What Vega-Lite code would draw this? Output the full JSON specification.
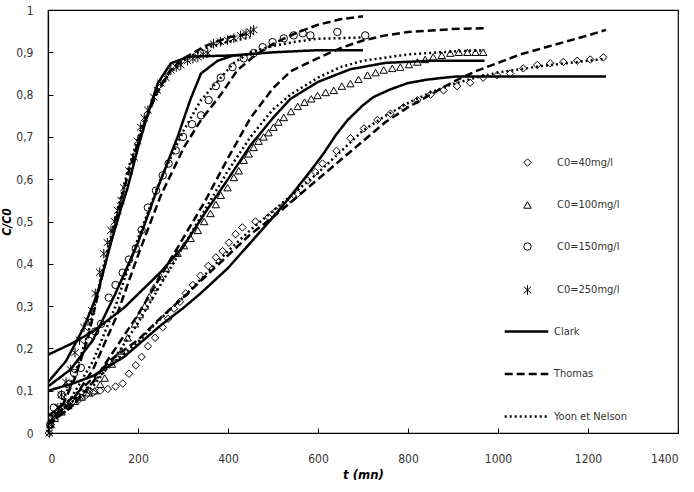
{
  "$schema": "https://vega.github.io/schema/vega-lite/v6.json",
  "width": 630,
  "height": 423,
  "autosize": {"type": "none"},
  "padding": {"left": 48, "top": 10, "right": 16, "bottom": 59},
  "background": "white",
  "config": {
    "font": "Liberation Sans Narrow, DejaVu Sans Condensed, sans-serif",
    "view": {"stroke": "#000", "strokeWidth": 1.2},
    "axis": {
      "grid": false,
      "domainColor": "#000",
      "domainWidth": 1.2,
      "tickColor": "#000",
      "tickWidth": 1,
      "tickSize": -5,
      "labelColor": "#333",
      "labelFontSize": 12,
      "titleColor": "#000",
      "titleFontStyle": "italic",
      "titleFontWeight": "bold",
      "titleFontSize": 13
    }
  },
  "datasets": {
    "fit": [
      {"t": 0, "v": 0.10, "c": "C0=40mg/l", "m": "Clark"},
      {"t": 50, "v": 0.115, "c": "C0=40mg/l", "m": "Clark"},
      {"t": 100, "v": 0.135, "c": "C0=40mg/l", "m": "Clark"},
      {"t": 169, "v": 0.18, "c": "C0=40mg/l", "m": "Clark"},
      {"t": 251, "v": 0.255, "c": "C0=40mg/l", "m": "Clark"},
      {"t": 300, "v": 0.295, "c": "C0=40mg/l", "m": "Clark"},
      {"t": 339, "v": 0.33, "c": "C0=40mg/l", "m": "Clark"},
      {"t": 400, "v": 0.39, "c": "C0=40mg/l", "m": "Clark"},
      {"t": 450, "v": 0.45, "c": "C0=40mg/l", "m": "Clark"},
      {"t": 500, "v": 0.51, "c": "C0=40mg/l", "m": "Clark"},
      {"t": 539, "v": 0.56, "c": "C0=40mg/l", "m": "Clark"},
      {"t": 580, "v": 0.615, "c": "C0=40mg/l", "m": "Clark"},
      {"t": 612, "v": 0.66, "c": "C0=40mg/l", "m": "Clark"},
      {"t": 640, "v": 0.705, "c": "C0=40mg/l", "m": "Clark"},
      {"t": 666, "v": 0.74, "c": "C0=40mg/l", "m": "Clark"},
      {"t": 700, "v": 0.775, "c": "C0=40mg/l", "m": "Clark"},
      {"t": 723, "v": 0.794, "c": "C0=40mg/l", "m": "Clark"},
      {"t": 760, "v": 0.812, "c": "C0=40mg/l", "m": "Clark"},
      {"t": 799, "v": 0.827, "c": "C0=40mg/l", "m": "Clark"},
      {"t": 840, "v": 0.835, "c": "C0=40mg/l", "m": "Clark"},
      {"t": 872, "v": 0.839, "c": "C0=40mg/l", "m": "Clark"},
      {"t": 909, "v": 0.843, "c": "C0=40mg/l", "m": "Clark"},
      {"t": 1000, "v": 0.843, "c": "C0=40mg/l", "m": "Clark"},
      {"t": 1240, "v": 0.843, "c": "C0=40mg/l", "m": "Clark"},

      {"t": 0, "v": 0.185, "c": "C0=100mg/l", "m": "Clark"},
      {"t": 50, "v": 0.21, "c": "C0=100mg/l", "m": "Clark"},
      {"t": 100, "v": 0.24, "c": "C0=100mg/l", "m": "Clark"},
      {"t": 169, "v": 0.296, "c": "C0=100mg/l", "m": "Clark"},
      {"t": 250, "v": 0.38, "c": "C0=100mg/l", "m": "Clark"},
      {"t": 300, "v": 0.44, "c": "C0=100mg/l", "m": "Clark"},
      {"t": 355, "v": 0.53, "c": "C0=100mg/l", "m": "Clark"},
      {"t": 400, "v": 0.6, "c": "C0=100mg/l", "m": "Clark"},
      {"t": 450, "v": 0.68, "c": "C0=100mg/l", "m": "Clark"},
      {"t": 500, "v": 0.745, "c": "C0=100mg/l", "m": "Clark"},
      {"t": 539, "v": 0.79, "c": "C0=100mg/l", "m": "Clark"},
      {"t": 600, "v": 0.83, "c": "C0=100mg/l", "m": "Clark"},
      {"t": 672, "v": 0.86, "c": "C0=100mg/l", "m": "Clark"},
      {"t": 750, "v": 0.875, "c": "C0=100mg/l", "m": "Clark"},
      {"t": 850, "v": 0.88, "c": "C0=100mg/l", "m": "Clark"},
      {"t": 970, "v": 0.88, "c": "C0=100mg/l", "m": "Clark"},

      {"t": 0, "v": 0.11, "c": "C0=150mg/l", "m": "Clark"},
      {"t": 50, "v": 0.15, "c": "C0=150mg/l", "m": "Clark"},
      {"t": 100, "v": 0.22, "c": "C0=150mg/l", "m": "Clark"},
      {"t": 150, "v": 0.33, "c": "C0=150mg/l", "m": "Clark"},
      {"t": 200, "v": 0.45, "c": "C0=150mg/l", "m": "Clark"},
      {"t": 244, "v": 0.58, "c": "C0=150mg/l", "m": "Clark"},
      {"t": 288, "v": 0.70, "c": "C0=150mg/l", "m": "Clark"},
      {"t": 317, "v": 0.79, "c": "C0=150mg/l", "m": "Clark"},
      {"t": 340, "v": 0.85, "c": "C0=150mg/l", "m": "Clark"},
      {"t": 377, "v": 0.88, "c": "C0=150mg/l", "m": "Clark"},
      {"t": 413, "v": 0.893, "c": "C0=150mg/l", "m": "Clark"},
      {"t": 500, "v": 0.9, "c": "C0=150mg/l", "m": "Clark"},
      {"t": 600, "v": 0.905, "c": "C0=150mg/l", "m": "Clark"},
      {"t": 700, "v": 0.905, "c": "C0=150mg/l", "m": "Clark"},

      {"t": 0, "v": 0.12, "c": "C0=250mg/l", "m": "Clark"},
      {"t": 40, "v": 0.17, "c": "C0=250mg/l", "m": "Clark"},
      {"t": 80, "v": 0.25, "c": "C0=250mg/l", "m": "Clark"},
      {"t": 110, "v": 0.33, "c": "C0=250mg/l", "m": "Clark"},
      {"t": 140, "v": 0.45, "c": "C0=250mg/l", "m": "Clark"},
      {"t": 162, "v": 0.53, "c": "C0=250mg/l", "m": "Clark"},
      {"t": 177, "v": 0.58, "c": "C0=250mg/l", "m": "Clark"},
      {"t": 200, "v": 0.675, "c": "C0=250mg/l", "m": "Clark"},
      {"t": 222, "v": 0.755, "c": "C0=250mg/l", "m": "Clark"},
      {"t": 244, "v": 0.827, "c": "C0=250mg/l", "m": "Clark"},
      {"t": 273, "v": 0.874, "c": "C0=250mg/l", "m": "Clark"},
      {"t": 311, "v": 0.889, "c": "C0=250mg/l", "m": "Clark"},
      {"t": 350, "v": 0.891, "c": "C0=250mg/l", "m": "Clark"},
      {"t": 430, "v": 0.893, "c": "C0=250mg/l", "m": "Clark"},

      {"t": 0, "v": 0.04, "c": "C0=40mg/l", "m": "Thomas"},
      {"t": 50, "v": 0.08, "c": "C0=40mg/l", "m": "Thomas"},
      {"t": 100, "v": 0.13, "c": "C0=40mg/l", "m": "Thomas"},
      {"t": 142, "v": 0.175, "c": "C0=40mg/l", "m": "Thomas"},
      {"t": 200, "v": 0.22, "c": "C0=40mg/l", "m": "Thomas"},
      {"t": 253, "v": 0.275, "c": "C0=40mg/l", "m": "Thomas"},
      {"t": 300, "v": 0.32, "c": "C0=40mg/l", "m": "Thomas"},
      {"t": 350, "v": 0.37, "c": "C0=40mg/l", "m": "Thomas"},
      {"t": 400, "v": 0.42, "c": "C0=40mg/l", "m": "Thomas"},
      {"t": 450, "v": 0.47, "c": "C0=40mg/l", "m": "Thomas"},
      {"t": 500, "v": 0.51, "c": "C0=40mg/l", "m": "Thomas"},
      {"t": 550, "v": 0.555, "c": "C0=40mg/l", "m": "Thomas"},
      {"t": 600, "v": 0.6, "c": "C0=40mg/l", "m": "Thomas"},
      {"t": 650, "v": 0.645, "c": "C0=40mg/l", "m": "Thomas"},
      {"t": 700, "v": 0.69, "c": "C0=40mg/l", "m": "Thomas"},
      {"t": 750, "v": 0.735, "c": "C0=40mg/l", "m": "Thomas"},
      {"t": 800, "v": 0.77, "c": "C0=40mg/l", "m": "Thomas"},
      {"t": 850, "v": 0.80, "c": "C0=40mg/l", "m": "Thomas"},
      {"t": 900, "v": 0.83, "c": "C0=40mg/l", "m": "Thomas"},
      {"t": 950, "v": 0.855, "c": "C0=40mg/l", "m": "Thomas"},
      {"t": 1000, "v": 0.875, "c": "C0=40mg/l", "m": "Thomas"},
      {"t": 1050, "v": 0.895, "c": "C0=40mg/l", "m": "Thomas"},
      {"t": 1100, "v": 0.91, "c": "C0=40mg/l", "m": "Thomas"},
      {"t": 1150, "v": 0.925, "c": "C0=40mg/l", "m": "Thomas"},
      {"t": 1200, "v": 0.94, "c": "C0=40mg/l", "m": "Thomas"},
      {"t": 1240, "v": 0.953, "c": "C0=40mg/l", "m": "Thomas"},

      {"t": 0, "v": 0.02, "c": "C0=100mg/l", "m": "Thomas"},
      {"t": 50, "v": 0.06, "c": "C0=100mg/l", "m": "Thomas"},
      {"t": 100, "v": 0.12, "c": "C0=100mg/l", "m": "Thomas"},
      {"t": 150, "v": 0.2, "c": "C0=100mg/l", "m": "Thomas"},
      {"t": 200, "v": 0.28, "c": "C0=100mg/l", "m": "Thomas"},
      {"t": 250, "v": 0.37, "c": "C0=100mg/l", "m": "Thomas"},
      {"t": 300, "v": 0.46, "c": "C0=100mg/l", "m": "Thomas"},
      {"t": 350, "v": 0.55, "c": "C0=100mg/l", "m": "Thomas"},
      {"t": 400, "v": 0.65, "c": "C0=100mg/l", "m": "Thomas"},
      {"t": 450, "v": 0.745, "c": "C0=100mg/l", "m": "Thomas"},
      {"t": 500, "v": 0.815, "c": "C0=100mg/l", "m": "Thomas"},
      {"t": 539, "v": 0.855, "c": "C0=100mg/l", "m": "Thomas"},
      {"t": 583, "v": 0.878, "c": "C0=100mg/l", "m": "Thomas"},
      {"t": 650, "v": 0.91, "c": "C0=100mg/l", "m": "Thomas"},
      {"t": 700, "v": 0.928, "c": "C0=100mg/l", "m": "Thomas"},
      {"t": 750, "v": 0.94, "c": "C0=100mg/l", "m": "Thomas"},
      {"t": 800, "v": 0.948, "c": "C0=100mg/l", "m": "Thomas"},
      {"t": 900, "v": 0.955, "c": "C0=100mg/l", "m": "Thomas"},
      {"t": 970, "v": 0.957, "c": "C0=100mg/l", "m": "Thomas"},

      {"t": 0, "v": 0.02, "c": "C0=150mg/l", "m": "Thomas"},
      {"t": 50, "v": 0.07, "c": "C0=150mg/l", "m": "Thomas"},
      {"t": 100, "v": 0.15, "c": "C0=150mg/l", "m": "Thomas"},
      {"t": 150, "v": 0.27, "c": "C0=150mg/l", "m": "Thomas"},
      {"t": 200, "v": 0.42, "c": "C0=150mg/l", "m": "Thomas"},
      {"t": 250, "v": 0.56, "c": "C0=150mg/l", "m": "Thomas"},
      {"t": 302, "v": 0.675, "c": "C0=150mg/l", "m": "Thomas"},
      {"t": 340, "v": 0.74, "c": "C0=150mg/l", "m": "Thomas"},
      {"t": 384, "v": 0.80, "c": "C0=150mg/l", "m": "Thomas"},
      {"t": 421, "v": 0.858, "c": "C0=150mg/l", "m": "Thomas"},
      {"t": 457, "v": 0.89, "c": "C0=150mg/l", "m": "Thomas"},
      {"t": 500, "v": 0.92, "c": "C0=150mg/l", "m": "Thomas"},
      {"t": 550, "v": 0.945, "c": "C0=150mg/l", "m": "Thomas"},
      {"t": 600, "v": 0.965, "c": "C0=150mg/l", "m": "Thomas"},
      {"t": 650, "v": 0.978, "c": "C0=150mg/l", "m": "Thomas"},
      {"t": 700, "v": 0.985, "c": "C0=150mg/l", "m": "Thomas"},

      {"t": 0, "v": 0.02, "c": "C0=250mg/l", "m": "Thomas"},
      {"t": 30, "v": 0.06, "c": "C0=250mg/l", "m": "Thomas"},
      {"t": 60, "v": 0.13, "c": "C0=250mg/l", "m": "Thomas"},
      {"t": 90, "v": 0.23, "c": "C0=250mg/l", "m": "Thomas"},
      {"t": 120, "v": 0.37, "c": "C0=250mg/l", "m": "Thomas"},
      {"t": 150, "v": 0.5, "c": "C0=250mg/l", "m": "Thomas"},
      {"t": 180, "v": 0.62, "c": "C0=250mg/l", "m": "Thomas"},
      {"t": 210, "v": 0.72, "c": "C0=250mg/l", "m": "Thomas"},
      {"t": 240, "v": 0.8, "c": "C0=250mg/l", "m": "Thomas"},
      {"t": 270, "v": 0.855, "c": "C0=250mg/l", "m": "Thomas"},
      {"t": 300, "v": 0.885, "c": "C0=250mg/l", "m": "Thomas"},
      {"t": 350, "v": 0.915, "c": "C0=250mg/l", "m": "Thomas"},
      {"t": 400, "v": 0.935, "c": "C0=250mg/l", "m": "Thomas"},
      {"t": 450, "v": 0.945, "c": "C0=250mg/l", "m": "Thomas"},

      {"t": 0, "v": 0.03, "c": "C0=40mg/l", "m": "Yoon et Nelson"},
      {"t": 50, "v": 0.07, "c": "C0=40mg/l", "m": "Yoon et Nelson"},
      {"t": 100, "v": 0.12, "c": "C0=40mg/l", "m": "Yoon et Nelson"},
      {"t": 150, "v": 0.17, "c": "C0=40mg/l", "m": "Yoon et Nelson"},
      {"t": 200, "v": 0.215, "c": "C0=40mg/l", "m": "Yoon et Nelson"},
      {"t": 250, "v": 0.27, "c": "C0=40mg/l", "m": "Yoon et Nelson"},
      {"t": 300, "v": 0.32, "c": "C0=40mg/l", "m": "Yoon et Nelson"},
      {"t": 350, "v": 0.375, "c": "C0=40mg/l", "m": "Yoon et Nelson"},
      {"t": 400, "v": 0.43, "c": "C0=40mg/l", "m": "Yoon et Nelson"},
      {"t": 450, "v": 0.48, "c": "C0=40mg/l", "m": "Yoon et Nelson"},
      {"t": 500, "v": 0.525, "c": "C0=40mg/l", "m": "Yoon et Nelson"},
      {"t": 550, "v": 0.57, "c": "C0=40mg/l", "m": "Yoon et Nelson"},
      {"t": 600, "v": 0.615, "c": "C0=40mg/l", "m": "Yoon et Nelson"},
      {"t": 650, "v": 0.665, "c": "C0=40mg/l", "m": "Yoon et Nelson"},
      {"t": 700, "v": 0.715, "c": "C0=40mg/l", "m": "Yoon et Nelson"},
      {"t": 750, "v": 0.75, "c": "C0=40mg/l", "m": "Yoon et Nelson"},
      {"t": 800, "v": 0.78, "c": "C0=40mg/l", "m": "Yoon et Nelson"},
      {"t": 850, "v": 0.805, "c": "C0=40mg/l", "m": "Yoon et Nelson"},
      {"t": 900, "v": 0.825, "c": "C0=40mg/l", "m": "Yoon et Nelson"},
      {"t": 950, "v": 0.84, "c": "C0=40mg/l", "m": "Yoon et Nelson"},
      {"t": 1000, "v": 0.852, "c": "C0=40mg/l", "m": "Yoon et Nelson"},
      {"t": 1100, "v": 0.868, "c": "C0=40mg/l", "m": "Yoon et Nelson"},
      {"t": 1200, "v": 0.88, "c": "C0=40mg/l", "m": "Yoon et Nelson"},
      {"t": 1240, "v": 0.885, "c": "C0=40mg/l", "m": "Yoon et Nelson"},

      {"t": 0, "v": 0.02, "c": "C0=100mg/l", "m": "Yoon et Nelson"},
      {"t": 50, "v": 0.06, "c": "C0=100mg/l", "m": "Yoon et Nelson"},
      {"t": 100, "v": 0.11, "c": "C0=100mg/l", "m": "Yoon et Nelson"},
      {"t": 150, "v": 0.18, "c": "C0=100mg/l", "m": "Yoon et Nelson"},
      {"t": 200, "v": 0.26, "c": "C0=100mg/l", "m": "Yoon et Nelson"},
      {"t": 250, "v": 0.35, "c": "C0=100mg/l", "m": "Yoon et Nelson"},
      {"t": 300, "v": 0.44, "c": "C0=100mg/l", "m": "Yoon et Nelson"},
      {"t": 350, "v": 0.53, "c": "C0=100mg/l", "m": "Yoon et Nelson"},
      {"t": 400, "v": 0.62, "c": "C0=100mg/l", "m": "Yoon et Nelson"},
      {"t": 450, "v": 0.70, "c": "C0=100mg/l", "m": "Yoon et Nelson"},
      {"t": 500, "v": 0.765, "c": "C0=100mg/l", "m": "Yoon et Nelson"},
      {"t": 539, "v": 0.80, "c": "C0=100mg/l", "m": "Yoon et Nelson"},
      {"t": 600, "v": 0.84, "c": "C0=100mg/l", "m": "Yoon et Nelson"},
      {"t": 650, "v": 0.865, "c": "C0=100mg/l", "m": "Yoon et Nelson"},
      {"t": 700, "v": 0.88, "c": "C0=100mg/l", "m": "Yoon et Nelson"},
      {"t": 800, "v": 0.895, "c": "C0=100mg/l", "m": "Yoon et Nelson"},
      {"t": 900, "v": 0.902, "c": "C0=100mg/l", "m": "Yoon et Nelson"},
      {"t": 970, "v": 0.905, "c": "C0=100mg/l", "m": "Yoon et Nelson"},

      {"t": 0, "v": 0.02, "c": "C0=150mg/l", "m": "Yoon et Nelson"},
      {"t": 50, "v": 0.08, "c": "C0=150mg/l", "m": "Yoon et Nelson"},
      {"t": 100, "v": 0.17, "c": "C0=150mg/l", "m": "Yoon et Nelson"},
      {"t": 150, "v": 0.3, "c": "C0=150mg/l", "m": "Yoon et Nelson"},
      {"t": 200, "v": 0.46, "c": "C0=150mg/l", "m": "Yoon et Nelson"},
      {"t": 250, "v": 0.6, "c": "C0=150mg/l", "m": "Yoon et Nelson"},
      {"t": 302, "v": 0.716, "c": "C0=150mg/l", "m": "Yoon et Nelson"},
      {"t": 340, "v": 0.787, "c": "C0=150mg/l", "m": "Yoon et Nelson"},
      {"t": 413, "v": 0.875, "c": "C0=150mg/l", "m": "Yoon et Nelson"},
      {"t": 450, "v": 0.9, "c": "C0=150mg/l", "m": "Yoon et Nelson"},
      {"t": 500, "v": 0.915, "c": "C0=150mg/l", "m": "Yoon et Nelson"},
      {"t": 550, "v": 0.925, "c": "C0=150mg/l", "m": "Yoon et Nelson"},
      {"t": 600, "v": 0.932, "c": "C0=150mg/l", "m": "Yoon et Nelson"},
      {"t": 700, "v": 0.935, "c": "C0=150mg/l", "m": "Yoon et Nelson"},

      {"t": 0, "v": 0.03, "c": "C0=250mg/l", "m": "Yoon et Nelson"},
      {"t": 30, "v": 0.07, "c": "C0=250mg/l", "m": "Yoon et Nelson"},
      {"t": 60, "v": 0.14, "c": "C0=250mg/l", "m": "Yoon et Nelson"},
      {"t": 90, "v": 0.24, "c": "C0=250mg/l", "m": "Yoon et Nelson"},
      {"t": 120, "v": 0.38, "c": "C0=250mg/l", "m": "Yoon et Nelson"},
      {"t": 150, "v": 0.51, "c": "C0=250mg/l", "m": "Yoon et Nelson"},
      {"t": 180, "v": 0.63, "c": "C0=250mg/l", "m": "Yoon et Nelson"},
      {"t": 210, "v": 0.73, "c": "C0=250mg/l", "m": "Yoon et Nelson"},
      {"t": 240, "v": 0.8, "c": "C0=250mg/l", "m": "Yoon et Nelson"},
      {"t": 270, "v": 0.85, "c": "C0=250mg/l", "m": "Yoon et Nelson"},
      {"t": 300, "v": 0.88, "c": "C0=250mg/l", "m": "Yoon et Nelson"},
      {"t": 350, "v": 0.91, "c": "C0=250mg/l", "m": "Yoon et Nelson"},
      {"t": 400, "v": 0.925, "c": "C0=250mg/l", "m": "Yoon et Nelson"},
      {"t": 450, "v": 0.935, "c": "C0=250mg/l", "m": "Yoon et Nelson"}
    ],
    "obs": [
      {"t": 2, "v": 0.0, "c": "C0=40mg/l"}, {"t": 6, "v": 0.02, "c": "C0=40mg/l"}, {"t": 12, "v": 0.04, "c": "C0=40mg/l"},
      {"t": 20, "v": 0.05, "c": "C0=40mg/l"}, {"t": 30, "v": 0.06, "c": "C0=40mg/l"}, {"t": 42, "v": 0.065, "c": "C0=40mg/l"},
      {"t": 55, "v": 0.075, "c": "C0=40mg/l"}, {"t": 70, "v": 0.08, "c": "C0=40mg/l"}, {"t": 85, "v": 0.09, "c": "C0=40mg/l"},
      {"t": 100, "v": 0.095, "c": "C0=40mg/l"}, {"t": 116, "v": 0.1, "c": "C0=40mg/l"}, {"t": 133, "v": 0.104, "c": "C0=40mg/l"},
      {"t": 150, "v": 0.11, "c": "C0=40mg/l"}, {"t": 166, "v": 0.117, "c": "C0=40mg/l"}, {"t": 180, "v": 0.14, "c": "C0=40mg/l"},
      {"t": 195, "v": 0.16, "c": "C0=40mg/l"}, {"t": 208, "v": 0.18, "c": "C0=40mg/l"}, {"t": 222, "v": 0.205, "c": "C0=40mg/l"},
      {"t": 238, "v": 0.225, "c": "C0=40mg/l"}, {"t": 255, "v": 0.25, "c": "C0=40mg/l"}, {"t": 267, "v": 0.27, "c": "C0=40mg/l"},
      {"t": 280, "v": 0.294, "c": "C0=40mg/l"}, {"t": 293, "v": 0.31, "c": "C0=40mg/l"}, {"t": 306, "v": 0.33, "c": "C0=40mg/l"},
      {"t": 322, "v": 0.35, "c": "C0=40mg/l"}, {"t": 339, "v": 0.372, "c": "C0=40mg/l"}, {"t": 356, "v": 0.395, "c": "C0=40mg/l"},
      {"t": 373, "v": 0.415, "c": "C0=40mg/l"}, {"t": 388, "v": 0.43, "c": "C0=40mg/l"}, {"t": 402, "v": 0.45, "c": "C0=40mg/l"},
      {"t": 417, "v": 0.47, "c": "C0=40mg/l"}, {"t": 432, "v": 0.486, "c": "C0=40mg/l"}, {"t": 461, "v": 0.5, "c": "C0=40mg/l"},
      {"t": 490, "v": 0.51, "c": "C0=40mg/l"}, {"t": 507, "v": 0.525, "c": "C0=40mg/l"}, {"t": 524, "v": 0.538, "c": "C0=40mg/l"},
      {"t": 540, "v": 0.552, "c": "C0=40mg/l"}, {"t": 555, "v": 0.566, "c": "C0=40mg/l"}, {"t": 577, "v": 0.597, "c": "C0=40mg/l"},
      {"t": 594, "v": 0.617, "c": "C0=40mg/l"}, {"t": 610, "v": 0.637, "c": "C0=40mg/l"}, {"t": 641, "v": 0.667, "c": "C0=40mg/l"},
      {"t": 672, "v": 0.697, "c": "C0=40mg/l"}, {"t": 702, "v": 0.72, "c": "C0=40mg/l"}, {"t": 732, "v": 0.74, "c": "C0=40mg/l"},
      {"t": 761, "v": 0.755, "c": "C0=40mg/l"}, {"t": 790, "v": 0.77, "c": "C0=40mg/l"}, {"t": 821, "v": 0.787, "c": "C0=40mg/l"},
      {"t": 850, "v": 0.8, "c": "C0=40mg/l"}, {"t": 879, "v": 0.81, "c": "C0=40mg/l"}, {"t": 909, "v": 0.82, "c": "C0=40mg/l"},
      {"t": 938, "v": 0.828, "c": "C0=40mg/l"}, {"t": 967, "v": 0.84, "c": "C0=40mg/l"}, {"t": 998, "v": 0.846, "c": "C0=40mg/l"},
      {"t": 1027, "v": 0.85, "c": "C0=40mg/l"}, {"t": 1056, "v": 0.862, "c": "C0=40mg/l"}, {"t": 1087, "v": 0.87, "c": "C0=40mg/l"},
      {"t": 1116, "v": 0.874, "c": "C0=40mg/l"}, {"t": 1145, "v": 0.877, "c": "C0=40mg/l"}, {"t": 1176, "v": 0.88, "c": "C0=40mg/l"},
      {"t": 1205, "v": 0.883, "c": "C0=40mg/l"}, {"t": 1234, "v": 0.888, "c": "C0=40mg/l"},

      {"t": 5, "v": 0.02, "c": "C0=100mg/l"}, {"t": 15, "v": 0.035, "c": "C0=100mg/l"}, {"t": 30, "v": 0.05, "c": "C0=100mg/l"},
      {"t": 45, "v": 0.065, "c": "C0=100mg/l"}, {"t": 60, "v": 0.075, "c": "C0=100mg/l"}, {"t": 75, "v": 0.085, "c": "C0=100mg/l"},
      {"t": 90, "v": 0.095, "c": "C0=100mg/l"}, {"t": 104, "v": 0.1, "c": "C0=100mg/l"}, {"t": 116, "v": 0.115, "c": "C0=100mg/l"},
      {"t": 126, "v": 0.13, "c": "C0=100mg/l"}, {"t": 142, "v": 0.163, "c": "C0=100mg/l"}, {"t": 153, "v": 0.18, "c": "C0=100mg/l"},
      {"t": 164, "v": 0.194, "c": "C0=100mg/l"}, {"t": 177, "v": 0.225, "c": "C0=100mg/l"}, {"t": 193, "v": 0.258, "c": "C0=100mg/l"},
      {"t": 204, "v": 0.28, "c": "C0=100mg/l"}, {"t": 215, "v": 0.30, "c": "C0=100mg/l"}, {"t": 225, "v": 0.322, "c": "C0=100mg/l"},
      {"t": 235, "v": 0.344, "c": "C0=100mg/l"}, {"t": 250, "v": 0.37, "c": "C0=100mg/l"}, {"t": 262, "v": 0.39, "c": "C0=100mg/l"},
      {"t": 273, "v": 0.408, "c": "C0=100mg/l"}, {"t": 288, "v": 0.425, "c": "C0=100mg/l"}, {"t": 302, "v": 0.443, "c": "C0=100mg/l"},
      {"t": 317, "v": 0.46, "c": "C0=100mg/l"}, {"t": 333, "v": 0.479, "c": "C0=100mg/l"}, {"t": 347, "v": 0.5, "c": "C0=100mg/l"},
      {"t": 361, "v": 0.519, "c": "C0=100mg/l"}, {"t": 373, "v": 0.54, "c": "C0=100mg/l"}, {"t": 384, "v": 0.562, "c": "C0=100mg/l"},
      {"t": 399, "v": 0.58, "c": "C0=100mg/l"}, {"t": 413, "v": 0.604, "c": "C0=100mg/l"}, {"t": 424, "v": 0.62, "c": "C0=100mg/l"},
      {"t": 435, "v": 0.645, "c": "C0=100mg/l"}, {"t": 446, "v": 0.66, "c": "C0=100mg/l"}, {"t": 457, "v": 0.675, "c": "C0=100mg/l"},
      {"t": 468, "v": 0.69, "c": "C0=100mg/l"}, {"t": 479, "v": 0.70, "c": "C0=100mg/l"}, {"t": 490, "v": 0.71, "c": "C0=100mg/l"},
      {"t": 501, "v": 0.723, "c": "C0=100mg/l"}, {"t": 512, "v": 0.735, "c": "C0=100mg/l"}, {"t": 524, "v": 0.746, "c": "C0=100mg/l"},
      {"t": 540, "v": 0.76, "c": "C0=100mg/l"}, {"t": 555, "v": 0.772, "c": "C0=100mg/l"}, {"t": 570, "v": 0.782, "c": "C0=100mg/l"},
      {"t": 585, "v": 0.79, "c": "C0=100mg/l"}, {"t": 599, "v": 0.798, "c": "C0=100mg/l"}, {"t": 617, "v": 0.805, "c": "C0=100mg/l"},
      {"t": 635, "v": 0.81, "c": "C0=100mg/l"}, {"t": 653, "v": 0.82, "c": "C0=100mg/l"}, {"t": 672, "v": 0.826, "c": "C0=100mg/l"},
      {"t": 690, "v": 0.836, "c": "C0=100mg/l"}, {"t": 710, "v": 0.846, "c": "C0=100mg/l"}, {"t": 728, "v": 0.852, "c": "C0=100mg/l"},
      {"t": 746, "v": 0.858, "c": "C0=100mg/l"}, {"t": 765, "v": 0.862, "c": "C0=100mg/l"}, {"t": 783, "v": 0.865, "c": "C0=100mg/l"},
      {"t": 802, "v": 0.871, "c": "C0=100mg/l"}, {"t": 821, "v": 0.877, "c": "C0=100mg/l"}, {"t": 838, "v": 0.883, "c": "C0=100mg/l"},
      {"t": 856, "v": 0.889, "c": "C0=100mg/l"}, {"t": 875, "v": 0.893, "c": "C0=100mg/l"}, {"t": 894, "v": 0.898, "c": "C0=100mg/l"},
      {"t": 913, "v": 0.9, "c": "C0=100mg/l"}, {"t": 932, "v": 0.9, "c": "C0=100mg/l"}, {"t": 950, "v": 0.9, "c": "C0=100mg/l"},
      {"t": 967, "v": 0.9, "c": "C0=100mg/l"},

      {"t": 5, "v": 0.02, "c": "C0=150mg/l"}, {"t": 13, "v": 0.06, "c": "C0=150mg/l"}, {"t": 30, "v": 0.09, "c": "C0=150mg/l"},
      {"t": 45, "v": 0.115, "c": "C0=150mg/l"}, {"t": 58, "v": 0.142, "c": "C0=150mg/l"}, {"t": 73, "v": 0.154, "c": "C0=150mg/l"},
      {"t": 91, "v": 0.218, "c": "C0=150mg/l"}, {"t": 105, "v": 0.24, "c": "C0=150mg/l"}, {"t": 118, "v": 0.258, "c": "C0=150mg/l"},
      {"t": 135, "v": 0.32, "c": "C0=150mg/l"}, {"t": 150, "v": 0.35, "c": "C0=150mg/l"}, {"t": 166, "v": 0.379, "c": "C0=150mg/l"},
      {"t": 180, "v": 0.41, "c": "C0=150mg/l"}, {"t": 195, "v": 0.436, "c": "C0=150mg/l"}, {"t": 208, "v": 0.48, "c": "C0=150mg/l"},
      {"t": 222, "v": 0.533, "c": "C0=150mg/l"}, {"t": 240, "v": 0.573, "c": "C0=150mg/l"}, {"t": 255, "v": 0.609, "c": "C0=150mg/l"},
      {"t": 268, "v": 0.637, "c": "C0=150mg/l"}, {"t": 284, "v": 0.668, "c": "C0=150mg/l"}, {"t": 300, "v": 0.7, "c": "C0=150mg/l"},
      {"t": 320, "v": 0.73, "c": "C0=150mg/l"}, {"t": 340, "v": 0.751, "c": "C0=150mg/l"}, {"t": 357, "v": 0.787, "c": "C0=150mg/l"},
      {"t": 373, "v": 0.82, "c": "C0=150mg/l"}, {"t": 384, "v": 0.84, "c": "C0=150mg/l"}, {"t": 410, "v": 0.865, "c": "C0=150mg/l"},
      {"t": 435, "v": 0.886, "c": "C0=150mg/l"}, {"t": 457, "v": 0.898, "c": "C0=150mg/l"}, {"t": 477, "v": 0.912, "c": "C0=150mg/l"},
      {"t": 499, "v": 0.924, "c": "C0=150mg/l"}, {"t": 524, "v": 0.933, "c": "C0=150mg/l"}, {"t": 546, "v": 0.94, "c": "C0=150mg/l"},
      {"t": 566, "v": 0.945, "c": "C0=150mg/l"}, {"t": 583, "v": 0.94, "c": "C0=150mg/l"}, {"t": 643, "v": 0.948, "c": "C0=150mg/l"},
      {"t": 705, "v": 0.94, "c": "C0=150mg/l"},

      {"t": 3, "v": 0.0, "c": "C0=250mg/l"}, {"t": 8, "v": 0.02, "c": "C0=250mg/l"}, {"t": 15, "v": 0.04, "c": "C0=250mg/l"},
      {"t": 22, "v": 0.06, "c": "C0=250mg/l"}, {"t": 30, "v": 0.09, "c": "C0=250mg/l"}, {"t": 40, "v": 0.12, "c": "C0=250mg/l"},
      {"t": 50, "v": 0.15, "c": "C0=250mg/l"}, {"t": 60, "v": 0.19, "c": "C0=250mg/l"}, {"t": 70, "v": 0.22, "c": "C0=250mg/l"},
      {"t": 80, "v": 0.25, "c": "C0=250mg/l"}, {"t": 89, "v": 0.265, "c": "C0=250mg/l"}, {"t": 97, "v": 0.29, "c": "C0=250mg/l"},
      {"t": 105, "v": 0.33, "c": "C0=250mg/l"}, {"t": 115, "v": 0.38, "c": "C0=250mg/l"}, {"t": 124, "v": 0.424, "c": "C0=250mg/l"},
      {"t": 132, "v": 0.45, "c": "C0=250mg/l"}, {"t": 140, "v": 0.479, "c": "C0=250mg/l"}, {"t": 148, "v": 0.5, "c": "C0=250mg/l"},
      {"t": 155, "v": 0.526, "c": "C0=250mg/l"}, {"t": 162, "v": 0.55, "c": "C0=250mg/l"}, {"t": 169, "v": 0.58, "c": "C0=250mg/l"},
      {"t": 180, "v": 0.62, "c": "C0=250mg/l"}, {"t": 191, "v": 0.652, "c": "C0=250mg/l"}, {"t": 199, "v": 0.69, "c": "C0=250mg/l"},
      {"t": 206, "v": 0.723, "c": "C0=250mg/l"}, {"t": 214, "v": 0.745, "c": "C0=250mg/l"}, {"t": 222, "v": 0.763, "c": "C0=250mg/l"},
      {"t": 235, "v": 0.794, "c": "C0=250mg/l"}, {"t": 243, "v": 0.81, "c": "C0=250mg/l"}, {"t": 251, "v": 0.827, "c": "C0=250mg/l"},
      {"t": 262, "v": 0.84, "c": "C0=250mg/l"}, {"t": 273, "v": 0.858, "c": "C0=250mg/l"}, {"t": 285, "v": 0.865, "c": "C0=250mg/l"},
      {"t": 295, "v": 0.87, "c": "C0=250mg/l"}, {"t": 310, "v": 0.88, "c": "C0=250mg/l"}, {"t": 322, "v": 0.885, "c": "C0=250mg/l"},
      {"t": 333, "v": 0.889, "c": "C0=250mg/l"}, {"t": 345, "v": 0.895, "c": "C0=250mg/l"}, {"t": 355, "v": 0.898, "c": "C0=250mg/l"},
      {"t": 368, "v": 0.92, "c": "C0=250mg/l"}, {"t": 383, "v": 0.925, "c": "C0=250mg/l"}, {"t": 399, "v": 0.929, "c": "C0=250mg/l"},
      {"t": 413, "v": 0.933, "c": "C0=250mg/l"}, {"t": 428, "v": 0.94, "c": "C0=250mg/l"}, {"t": 440, "v": 0.945, "c": "C0=250mg/l"},
      {"t": 450, "v": 0.948, "c": "C0=250mg/l"}, {"t": 457, "v": 0.953, "c": "C0=250mg/l"}
    ]
  },
  "encoding": {
    "x": {
      "field": "t", "type": "quantitative",
      "scale": {"domain": [0, 1400], "nice": false},
      "axis": {"values": [0, 200, 400, 600, 800, 1000, 1200, 1400], "format": "d", "title": "t (mn)", "labelPadding": 25, "titlePadding": 4}
    },
    "y": {
      "field": "v", "type": "quantitative",
      "scale": {"domain": [0, 1], "nice": false},
      "axis": {"values": [0, 0.1, 0.2, 0.3, 0.4, 0.5, 0.6, 0.7, 0.8, 0.9, 1], "title": "C/C0", "labelPadding": 20, "titlePadding": 2,
               "titleFontSize": 12,
               "labelExpr": "replace(format(datum.value, '.1~f'), '.', ',')"}
    }
  },
  "layer": [
    {
      "data": {"name": "fit"},
      "mark": {"type": "line", "strokeWidth": 2.5, "color": "black", "clip": true},
      "encoding": {
        "detail": {"field": "c"},
        "strokeDash": {
          "field": "m", "type": "nominal",
          "scale": {"domain": ["Clark", "Thomas", "Yoon et Nelson"], "range": [[1, 0], [8, 4], [2, 3]]},
          "legend": {
            "title": null, "orient": "none", "legendX": 455, "legendY": 298,
            "symbolType": "stroke", "symbolSize": 1900, "symbolStrokeWidth": 2.5, "symbolStrokeColor": "black",
            "labelFontSize": 11, "labelColor": "#333", "labelOffset": 4, "rowPadding": 13.5, "padding": 0
          }
        }
      }
    },
    {
      "data": {"name": "obs"},
      "mark": {"type": "point", "filled": false, "color": "black", "strokeWidth": 1, "size": 55, "opacity": 1},
      "encoding": {
        "shape": {
          "field": "c", "type": "nominal",
          "scale": {
            "domain": ["C0=40mg/l", "C0=100mg/l", "C0=150mg/l", "C0=250mg/l"],
            "range": ["diamond", "triangle-up", "circle", "M0,-1.3L0,1.3M-1,-0.9L1,0.9M-1,0.9L1,-0.9"]
          },
          "legend": {
            "title": null, "orient": "none", "legendX": 474, "legendY": 147,
            "symbolSize": 55, "symbolStrokeWidth": 1, "symbolStrokeColor": "black", "symbolFillColor": "white",
            "labelFontSize": 11, "labelColor": "#333", "labelOffset": 24, "rowPadding": 29.5, "padding": 0
          }
        }
      }
    }
  ]
}
